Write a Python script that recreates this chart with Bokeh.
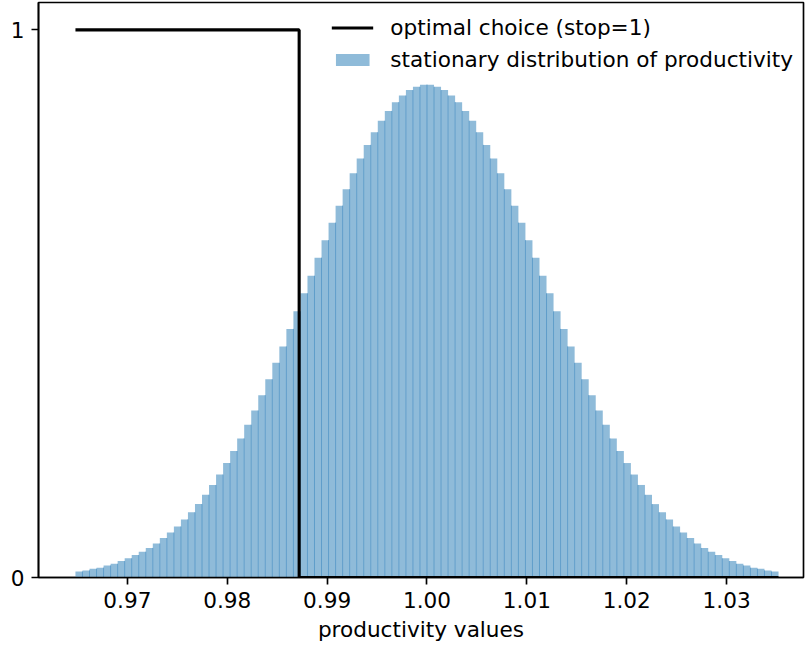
import numpy as np
from bokeh.plotting import figure
from bokeh.models import Range1d, FixedTicker, PrintfTickFormatter, Legend, LegendItem, ColumnDataSource
from bokeh.embed import file_html
from bokeh.resources import INLINE

# ---- data -------------------------------------------------------------
grid_lo = 0.9648          # lowest productivity value (left edge of first bin)
grid_hi = 1.0352          # highest productivity value (right edge of last bin)
n_bins = 100

stationary_dist = [
    0.011, 0.013, 0.016, 0.018, 0.022, 0.025, 0.030, 0.035, 0.041, 0.047,
    0.054, 0.062, 0.072, 0.082, 0.093, 0.106, 0.119, 0.134, 0.151, 0.169,
    0.188, 0.209, 0.231, 0.254, 0.279, 0.305, 0.333, 0.362, 0.392, 0.422,
    0.454, 0.486, 0.519, 0.551, 0.584, 0.616, 0.648, 0.679, 0.709, 0.738,
    0.765, 0.790, 0.813, 0.834, 0.852, 0.868, 0.880, 0.890, 0.896, 0.900,
    0.900, 0.896, 0.890, 0.880, 0.868, 0.852, 0.834, 0.813, 0.790, 0.765,
    0.738, 0.709, 0.679, 0.648, 0.616, 0.584, 0.551, 0.519, 0.486, 0.454,
    0.422, 0.392, 0.362, 0.333, 0.305, 0.279, 0.254, 0.231, 0.209, 0.188,
    0.169, 0.151, 0.134, 0.119, 0.106, 0.093, 0.082, 0.072, 0.062, 0.054,
    0.047, 0.041, 0.035, 0.030, 0.025, 0.022, 0.018, 0.016, 0.013, 0.011,
]

threshold = 0.9872                     # productivity where choice switches
choice_x = [grid_lo, threshold, grid_hi]
choice_y = [1, 0, 0]                   # optimal choice (stop=1)

x_ticks = [0.97, 0.98, 0.99, 1.00, 1.01, 1.02, 1.03]
y_ticks = [0, 1]

# ---- derived ------------------------------------------------------------
dist = np.array(stationary_dist)
bin_w = (grid_hi - grid_lo) / n_bins
centers = grid_lo + bin_w * (np.arange(n_bins) + 0.5)
left_edges = centers[1:] - bin_w / 2
seam_top = np.minimum(dist[1:], dist[:-1])

FONT = "DejaVu Sans"
FS = "21.6px"

p = figure(width=805, height=654, output_backend="svg", toolbar_location=None,
           x_range=Range1d(0.9611, 1.0377), y_range=Range1d(0, 1.05),
           min_border_left=38, min_border_right=2, min_border_top=2, min_border_bottom=77)

bar_src = ColumnDataSource(dict(x=centers, top=dist))
bars = p.vbar(x="x", top="top", bottom=0, width=bin_w, source=bar_src,
              fill_color="#8fbbd9", fill_alpha=1.0, line_color=None)
p.segment(x0=left_edges, y0=np.zeros_like(seam_top), x1=left_edges, y1=seam_top,
          line_color="#5f9dca", line_width=1)

line = p.step(x=choice_x, y=choice_y, mode="after", line_color="black", line_width=3.1)

legend = Legend(items=[
    LegendItem(label="optimal choice (stop=1)", renderers=[line]),
    LegendItem(label="stationary distribution of productivity", renderers=[bars]),
], location="top_right")
legend.border_line_alpha = 0
legend.background_fill_alpha = 0
legend.label_text_font = FONT
legend.label_text_font_size = FS
legend.label_text_color = "black"
legend.glyph_width = 42
legend.glyph_height = 15
legend.label_height = 30
legend.label_standoff = 17
legend.spacing = 2
legend.margin = 10
legend.padding = 0
p.add_layout(legend)

p.grid.visible = False
p.outline_line_color = "black"
p.outline_line_width = 1.67
p.outline_line_alpha = 1

for ax in (p.xaxis[0], p.yaxis[0]):
    ax.axis_line_color = "black"
    ax.axis_line_width = 1.67
    ax.major_tick_line_color = "black"
    ax.major_tick_line_width = 1.67
    ax.major_tick_out = 7
    ax.major_tick_in = 0
    ax.minor_tick_line_color = None
    ax.major_label_text_font = FONT
    ax.major_label_text_font_size = FS
    ax.major_label_text_color = "black"
    ax.major_label_standoff = 7

p.xaxis.ticker = FixedTicker(ticks=x_ticks)
p.xaxis.formatter = PrintfTickFormatter(format="%.2f")
p.yaxis.ticker = FixedTicker(ticks=y_ticks)
p.xaxis.axis_label = "productivity values"
p.xaxis.axis_label_text_font = FONT
p.xaxis.axis_label_text_font_size = FS
p.xaxis.axis_label_text_font_style = "normal"
p.xaxis.axis_label_text_color = "black"
p.xaxis.axis_label_standoff = 6

open("out.html", "w").write(file_html(p, INLINE))
